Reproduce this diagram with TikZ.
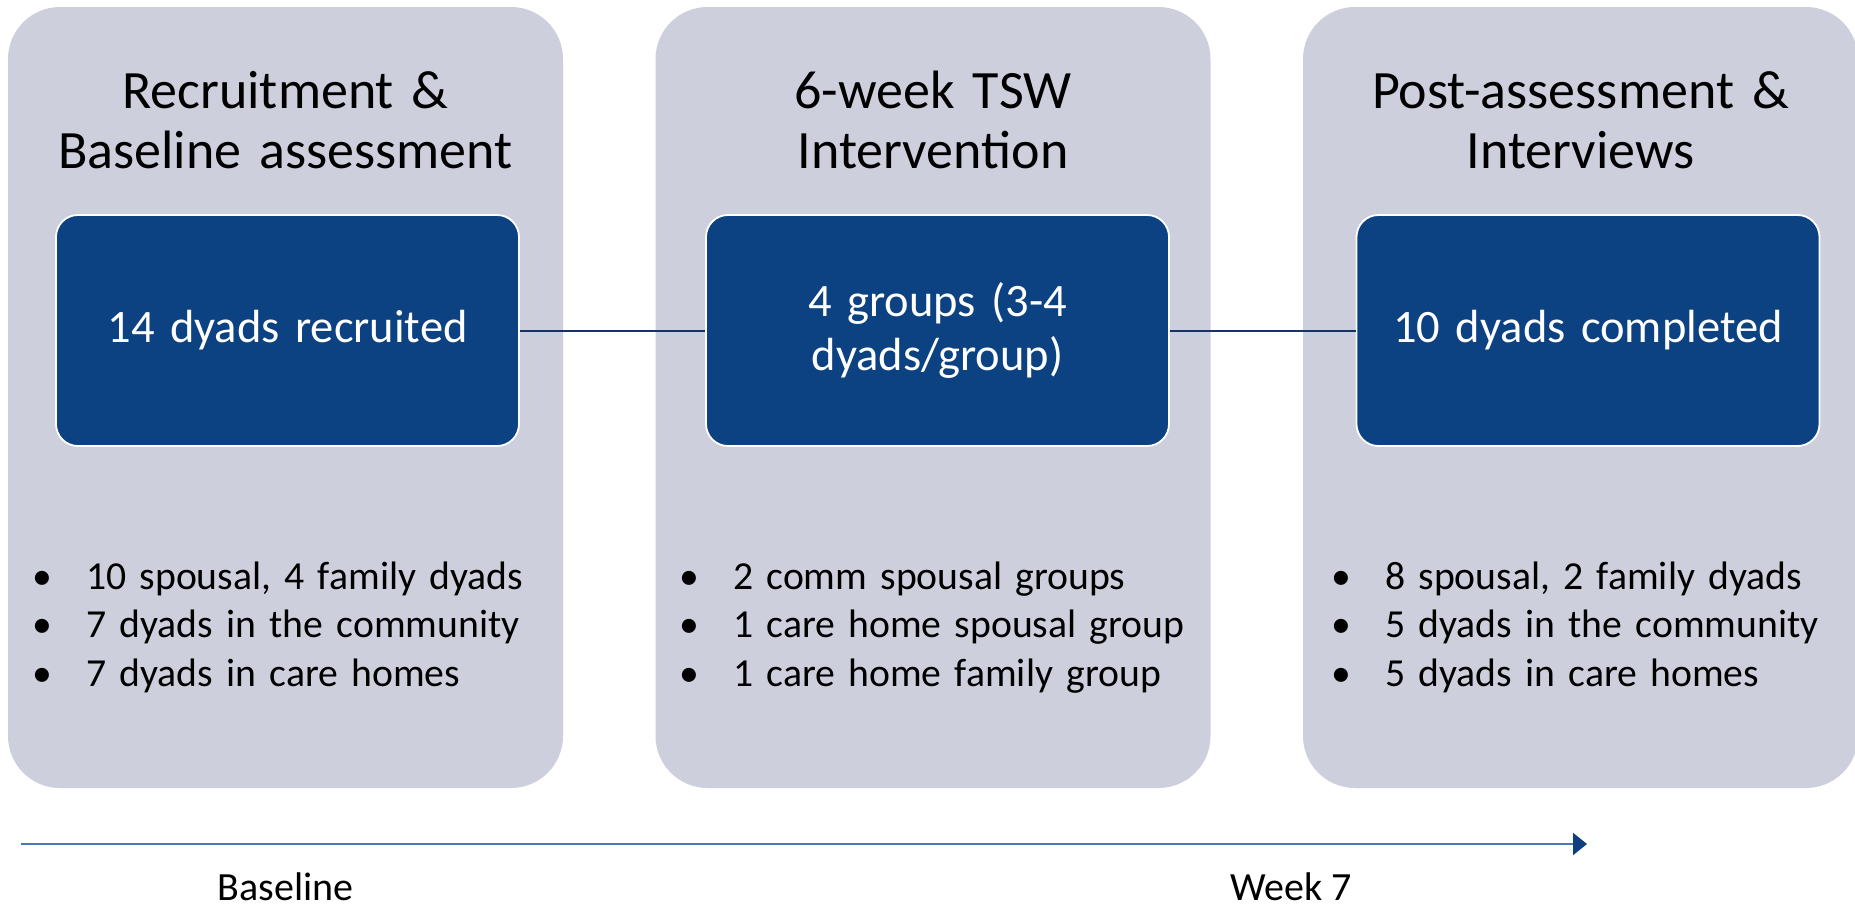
\documentclass[tikz,border=0pt]{standalone}
\usepackage{fontspec}
\setmainfont{Carlito}
\usetikzlibrary{arrows.meta}
\definecolor{panelgray}{RGB}{205,207,220}
\definecolor{boxblue}{RGB}{12,65,130}
\definecolor{linkblue}{RGB}{20,52,105}
\definecolor{timeline}{RGB}{75,120,178}
\definecolor{headblue}{RGB}{14,62,128}
\newcommand\blt{\makebox[54pt][l]{•}}
\begin{document}
\begin{tikzpicture}[x=1pt,y=-1pt,
  panel/.style={fill=panelgray, rounded corners=52pt, minimum width=555pt, minimum height=781pt, inner sep=0pt, outer sep=0pt},
  bluebox/.style={fill=boxblue, draw=white, line width=1.8pt, rounded corners=22pt, minimum width=463pt, minimum height=231pt, inner sep=0pt, text=white, align=center, text width=440pt, font=\fontsize{46.5}{54}\selectfont},
  titletext/.style={anchor=base, align=center, text width=545pt, font=\fontsize{54}{60}\selectfont, inner sep=0pt},
  bullets/.style={anchor=base west, align=left, text width=540pt, font=\fontsize{39.7}{48.5}\selectfont, inner sep=0pt},
  timelabel/.style={anchor=base, font=\fontsize{40}{48}\selectfont, inner sep=0pt},
  link/.style={draw=linkblue, line width=2pt},
]
\useasboundingbox (0,0) rectangle (1855,908);
\fill[white] (0,0) rectangle (1855,908);

\node[panel] (p1) at (285.5,397.5) {};
\node[panel] (p2) at (933,397.5) {};
\node[panel] (p3) at (1580.5,397.5) {};

\node[titletext] (t1) at (285.5,108) {Recruitment \&\\Baseline assessment};
\node[titletext] (t2) at (933,108) {6-week TSW\\Intervention};
\node[titletext] (t3) at (1580.5,108) {Post-assessment \&\\Interviews};

\node[bluebox] (b1) at (287.5,330.5) {14 dyads recruited};
\node[bluebox] (b2) at (937.5,330.5) {4 groups (3-4\\dyads/group)};
\node[bluebox] (b3) at (1588,330.5) {10 dyads completed};
\draw[link] (b1.east) -- (b2.west);
\draw[link] (b2.east) -- (b3.west);

\node[bullets] (l1) at (32,589) {\blt 10 spousal, 4 family dyads\\\blt 7 dyads in the community\\\blt 7 dyads in care homes};
\node[bullets] (l2) at (679,589) {\blt 2 comm spousal groups\\\blt 1 care home spousal group\\\blt 1 care home family group};
\node[bullets] (l3) at (1331,589) {\blt 8 spousal, 2 family dyads\\\blt 5 dyads in the community\\\blt 5 dyads in care homes};

\coordinate (ts) at (21,844);
\coordinate (te) at (1587,844);
\draw[draw=timeline, line width=2pt, -{Triangle[length=14pt,width=22pt,color=headblue]}] (ts) -- (te);

\node[timelabel] (lb) at (285.5,900) {Baseline};
\node[timelabel] (lw) at (1291,900) {Week 7};
\end{tikzpicture}
\end{document}
